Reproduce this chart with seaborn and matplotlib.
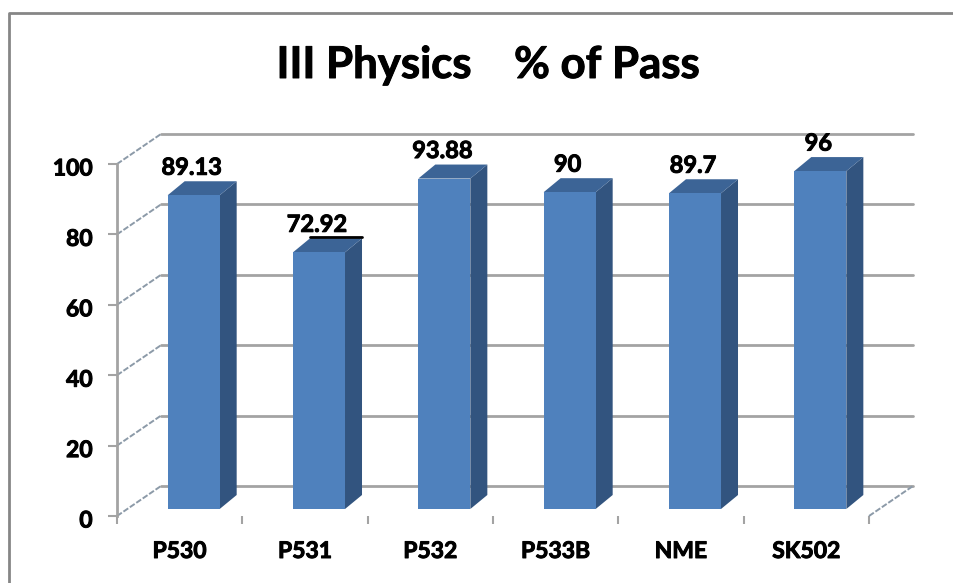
import matplotlib
matplotlib.use("Agg")
import matplotlib.patheffects as pe
import matplotlib.pyplot as plt
import pandas as pd
import seaborn as sns
from matplotlib.lines import Line2D
from matplotlib.patches import Polygon
from matplotlib.transforms import Affine2D

subjects = ["P530", "P531", "P532", "P533B", "NME", "SK502"]
pass_pct = [89.13, 72.92, 93.88, 90, 89.7, 96]
value_labels = ["89.13", "72.92", "93.88", "90", "89.7", "96"]
y_ticks = [0, 20, 40, 60, 80, 100]

df = pd.DataFrame({"subject": subjects, "pct": pass_pct})

sns.set_theme(style="white")
plt.rcParams["font.family"] = ["Lato", "DejaVu Sans"]
plt.rcParams["font.weight"] = "bold"

W, H = 954, 583
GRID = "#a3a3a3"
FRONT = "#4f81bd"
SIDE = "#32547f"
TOP = "#3c6496"
thick = [pe.withStroke(linewidth=0.7, foreground="black")]

fig = plt.figure(figsize=(W / 100, H / 100), dpi=100)
# plot area in pixels: x 117-869, y 164-516
ax = fig.add_axes([117 / W, 1 - 516 / H, 752 / W, 352 / H])

sns.barplot(data=df, x="subject", y="pct", color=FRONT, saturation=1, width=0.415, ax=ax,
            zorder=3, linewidth=0)
ax.set_xlim(-0.5, 5.5)
ax.set_ylim(0, 100)
ax.set_xlabel("")
ax.set_ylabel("")

# pixel -> data scale for the fake 3d offsets
px_x = 6 / 752
px_y = 100 / 352

# back wall and its side lines
wall = Affine2D().translate(44, 30)
for t in y_ticks:
    ax.plot([-0.5, 5.5], [t, t], color=GRID, lw=2, clip_on=False, zorder=1,
            transform=ax.transData + wall)
    ax.plot([-0.5, -0.5 + 44 * px_x], [t, t + 30 * px_y], color="#8c9aa8", lw=1.4,
            ls=(0, (3, 1)), clip_on=False, zorder=1)
ax.plot([5.5, 5.5 + 44 * px_x], [0, 30 * px_y], color="#8c9aa8", lw=1.4,
        ls=(0, (3, 1)), clip_on=False, zorder=1)

# bars sit inside the floor, extruded to the back
shift = Affine2D().translate(14, 7)
depth_x = 17 * px_x
depth_y = 14 * px_y
for bar in ax.patches:
    x0 = bar.get_x()
    x1 = x0 + bar.get_width()
    h = bar.get_height()
    bar.set_transform(ax.transData + shift)
    bar.set_clip_on(False)
    ax.add_patch(Polygon([(x1, 0), (x1 + depth_x, depth_y), (x1 + depth_x, h + depth_y), (x1, h)],
                         color=SIDE, lw=0, zorder=2, clip_on=False, transform=ax.transData + shift))
    ax.add_patch(Polygon([(x0, h), (x0 + depth_x, h + depth_y), (x1 + depth_x, h + depth_y), (x1, h)],
                         color=TOP, lw=0, zorder=2, clip_on=False, transform=ax.transData + shift))

# value labels above each bar
for i, bar in enumerate(ax.patches[:len(subjects)]):
    cx = bar.get_x() + bar.get_width() / 2
    ax.annotate(value_labels[i], (cx, bar.get_height()), xycoords=ax.transData + shift,
                xytext=(-2 * 0.72, 28 * 0.72), textcoords="offset points",
                ha="center", va="center", fontsize=17, color="black", fontweight="bold",
                annotation_clip=False, zorder=5, path_effects=thick)

# the dark edge behind the P531 label
b = ax.patches[1]
ax.plot([b.get_x() + depth_x, b.get_x() + b.get_width() + depth_x], [b.get_height() + depth_y + 0.3] * 2,
        color="black", lw=2, clip_on=False, zorder=4, transform=ax.transData + shift)

sns.despine(ax=ax, top=True, right=True, bottom=True, left=False)
ax.spines["left"].set_color(GRID)
ax.spines["left"].set_linewidth(2)
ax.set_yticks(y_ticks)
ax.tick_params(axis="y", left=True, length=6.5, width=1.5, color=GRID, pad=11, labelsize=16.5, labelcolor="black")
ax.set_xticks(range(len(subjects)))
ax.set_xticklabels(subjects)
ax.set_xticks([i - 0.5 for i in range(len(subjects) + 1)], minor=True)
ax.tick_params(axis="x", which="major", bottom=False, pad=12, labelsize=16.5, labelcolor="black")
ax.tick_params(axis="x", which="minor", bottom=True, length=6, width=1.5, color=GRID)
ax.patch.set_alpha(0)
for lab in ax.get_xticklabels() + ax.get_yticklabels():
    lab.set_fontweight("bold")
    lab.set_path_effects(thick)
for lab in ax.get_yticklabels():
    lab.set_transform(lab.get_transform() + Affine2D().translate(0, -3))

fig.text(488 / W, 1 - 65 / H, "III Physics    % of Pass", ha="center", va="center",
         fontsize=31.5, fontweight="bold", color="black", path_effects=thick)

# outer chart frame, only top and left are in the crop
fig.add_artist(Line2D([9 / W, 9 / W, 1], [0, 1 - 13 / H, 1 - 13 / H], color="#868686", lw=2))

fig.savefig("out.png", dpi=100)
